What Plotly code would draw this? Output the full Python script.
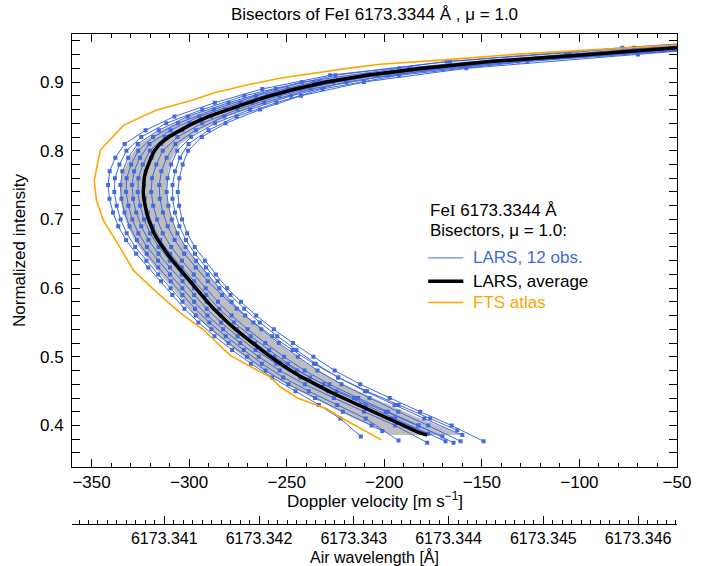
import plotly.graph_objects as go

# ---------------- data ----------------
# bisector levels: odd-numbered observations on levels_a, even-numbered on levels_b
levels_a = [0.97, 0.95, 0.93, 0.91, 0.89, 0.87, 0.85, 0.83, 0.81, 0.79, 0.77, 0.75, 0.73, 0.71, 0.69,
            0.67, 0.65, 0.63, 0.61, 0.59, 0.57, 0.55, 0.53, 0.51, 0.49, 0.47, 0.45, 0.43, 0.41]
levels_b = [0.96, 0.94, 0.92, 0.90, 0.88, 0.86, 0.84, 0.82, 0.80, 0.78, 0.76, 0.74, 0.72, 0.70, 0.68,
            0.66, 0.64, 0.62, 0.60, 0.58, 0.56, 0.54, 0.52, 0.50, 0.48, 0.46, 0.44, 0.42, 0.40]

obs1 = [30, -72, -166.3, -227.7, -262.5, -286.8, -307.5, -322.3, -333, -337.8, -340.7, -341.5, -340.8, -339, -336.3,
        -332.3, -327.1, -320.9, -314.4, -308.6, -302.4, -295.2, -287, -278, -268.3, -257.5, -245.5, -233.5, -222.5]
obs2 = [-22, -107, -192.3, -242.2, -271.7, -293.3, -311.7, -324.5, -332.1, -335.7, -338, -338.3, -337.1, -335.1, -332,
        -327.6, -321.9, -315.8, -309.5, -303.4, -296.6, -288.6, -279.8, -270.3, -260.8, -249.1, -235.4, -221.2, -206.5]
obs3 = [25, -78, -168, -225, -255.5, -279.8, -300.7, -315.5, -326.3, -331.2, -334.2, -335.2, -334.7, -333.1, -330.5,
        -326.8, -321.7, -315.8, -309.4, -303.4, -297, -289.6, -281.2, -272, -262.7, -251.8, -238.7, -224.1, -209.5]
obs4 = [-16, -101, -186.3, -236.2, -265.7, -287.3, -305.7, -318.5, -326.1, -329.7, -332, -332.3, -331.1, -329.1, -326,
        -321.6, -315.9, -309.8, -303.5, -297.4, -290.6, -282.6, -273.8, -264.3, -253.6, -240.7, -225.8, -210.4, -194.5]
obs5 = [40, -45, -144, -210, -249.5, -273.8, -294.7, -309.5, -320.3, -325.2, -328.2, -329.2, -328.7, -327.1, -324.5,
        -320.8, -315.7, -309.8, -303.4, -297.4, -291, -283.6, -275.2, -266, -255.3, -243, -228.5, -212.5, -196.5]
obs6 = [-20, -105, -187, -233.5, -259.7, -281.3, -299.7, -312.5, -320.1, -323.7, -326, -326.3, -325.1, -323.1, -320,
        -315.6, -309.9, -303.8, -297.5, -291, -283.8, -275.4, -266.2, -256.3, -244.8, -231.1, -215.4, -199.2, -182.5]
obs7 = [45, -38, -137.3, -203.7, -243.5, -267.8, -288.7, -303.5, -314.3, -319.2, -322.2, -323.2, -322.7, -321.1, -318.5,
        -314.8, -309.7, -303.8, -297.4, -291.2, -284.6, -277, -268.4, -259, -249.3, -238, -224.5, -209.5, -194.5]
obs8 = [-10, -95, -178.3, -226.2, -253.7, -275.2, -293.3, -306, -313.5, -316.8, -319, -319.4, -318.4, -316.4, -313.5,
        -309.2, -303.7, -297.6, -291.5, -285.2, -278.2, -270, -261, -251.3, -240.8, -228.1, -213.4, -198.2, -182.5]
obs9 = [50, -32, -131.3, -197.7, -237.5, -261.5, -282, -296.5, -307, -311.5, -314.2, -315.3, -315, -313.4, -311,
        -307.4, -302.5, -296.6, -290.4, -283.2, -275.6, -267, -257.4, -247, -236.1, -223.6, -208.9, -192.7, -176.5]
obs10 = [-2, -87, -171, -219.5, -247.7, -268.8, -286.7, -299, -306.1, -309.2, -311, -311.5, -310.6, -308.8, -306,
         -301.8, -296.4, -290.5, -284.5, -278.2, -271.2, -263, -254, -244.3, -234.2, -221.9, -207.6, -192.8, -177.5]
obs11 = [55, -28, -126.7, -192.3, -231.5, -255.3, -275.7, -290, -300.3, -304.7, -307.2, -308.5, -308.5, -307.2, -305,
         -301.6, -297, -291.4, -285.4, -278.8, -271.8, -263.8, -254.8, -245, -235.1, -223.6, -209.9, -194.7, -179.5]
obs12 = [15, -70, -158, -210.5, -242.7, -263.7, -281.3, -293.5, -300.5, -303.3, -305, -305.8, -305.1, -303.6, -301,
         -297.1, -291.9, -286.3, -280.5, -273.4, -265.6, -256.6, -246.8, -236.3, -225.4, -212.3, -197.2, -181.6, -165.5]
observations = [obs1, obs2, obs3, obs4, obs5, obs6, obs7, obs8, obs9, obs10, obs11, obs12]
obs_end_v = [-212.0, -201.0, -192.7, -178.0, -177.4, -170.2, -168.6, -164.5, -162.6, -160.9, -160.0, -149.1]
obs_end_i = [0.384, 0.392, 0.378, 0.375, 0.388, 0.384, 0.377, 0.375, 0.393, 0.377, 0.386, 0.377]

avg_i = [0.95, 0.94, 0.93, 0.92, 0.91, 0.90, 0.89, 0.88, 0.87, 0.86, 0.85, 0.84, 0.83, 0.82, 0.81, 0.80,
         0.79, 0.78, 0.77, 0.76, 0.75, 0.74, 0.73, 0.72, 0.71, 0.70, 0.69, 0.68, 0.67, 0.66, 0.65, 0.64,
         0.63, 0.62, 0.61, 0.60, 0.59, 0.58, 0.57, 0.56, 0.55, 0.54, 0.53, 0.52, 0.51, 0.50, 0.49, 0.48,
         0.47, 0.46, 0.45, 0.44, 0.43, 0.42, 0.41, 0.40, 0.39, 0.386]
avg_v = [-50, -95, -146, -180, -209, -229.5, -245.5, -258.7, -269.5, -280, -290, -298, -304.5, -310.5, -315, -317.8,
         -319.5, -321, -322.2, -323, -323.4, -323.5, -323.2, -322.6, -321.8, -320.8, -319.5, -318, -316, -313.8, -311.2, -308.4,
         -305.5, -302.5, -299.4, -296.5, -293.6, -290.6, -287.4, -284, -280.2, -276.2, -272, -267.6, -263, -258.3, -253.3, -248,
         -242, -235.5, -228.5, -221, -213.5, -206, -198.5, -190.5, -182.5, -178]

fts_i = [0.958, 0.954, 0.948, 0.941, 0.932, 0.929, 0.926, 0.920, 0.913, 0.906, 0.896, 0.884, 0.874, 0.859, 0.837,
         0.801, 0.757, 0.728, 0.699, 0.666, 0.626, 0.593, 0.564, 0.539, 0.502, 0.470, 0.456, 0.440, 0.424, 0.412, 0.379]
fts_v = [-25, -50, -87, -130, -171, -185, -202, -219, -236, -253, -270, -287.5, -298, -317, -333.7,
         -345.5, -348.6, -347.5, -344, -336.8, -328.6, -316.3, -304.5, -292.6, -278.9, -258.3, -253.2, -244.5, -229.2, -222.5, -201.5]

band_i = [0.95, 0.93, 0.91, 0.89, 0.87, 0.85, 0.83, 0.81, 0.79, 0.77, 0.75, 0.73, 0.71, 0.69,
          0.67, 0.65, 0.63, 0.61, 0.59, 0.57, 0.55, 0.53, 0.51, 0.49, 0.47, 0.45, 0.43, 0.41, 0.386]
band_lo = [-66, -160, -221, -256.5, -279.5, -300, -314.5, -325.5, -330.5, -333.7, -335.4, -335.2, -333.8, -331.5,
           -328, -323.2, -317.5, -311.4, -305.6, -299.9, -293.2, -285, -276.5, -267.3, -256.5, -243.5, -229.5, -215.5, -196]
band_hi = [-34, -132, -197, -234.5, -259.5, -280, -294.5, -304.5, -308.5, -310.7, -311.4, -311.2, -309.8, -307.5,
           -304, -299.2, -293.5, -287.4, -281.6, -274.9, -267.2, -259, -249.5, -239.3, -227.5, -213.5, -197.5, -181.5, -160]

x_range = [-360, -50]
y_range = [0.34, 0.97]
wl_range = [6173.340026, 6173.346411]

BLUE = "#4169E1"
ORANGE = "#FFA500"
FONT = "Liberation Sans, Arial, Helvetica, sans-serif"
FS = 17
FS2 = 16
FE_I = "Fe<span style=\"font-family:'Liberation Serif'\">I</span>"

W, H = 706, 566
ML, MR, MT, MB = 72, 29, 34, 42
PW, PH = W - ML - MR, H - MT - MB
PLOT_BOTTOM = 466.7


def px_x(p):
    return (p - ML) / PW


def px_y(p):
    return (H - MB - p) / PH


fig = go.Figure()

# gray band
fig.add_trace(go.Scatter(x=band_lo + band_hi[::-1], y=band_i + band_i[::-1], fill="toself",
                         fillcolor="#BEBEBE", line=dict(width=0), mode="lines",
                         showlegend=False, hoverinfo="skip"))
# observations
for k, ov in enumerate(observations):
    lv = levels_a if k % 2 == 0 else levels_b
    fig.add_trace(go.Scatter(x=ov + [obs_end_v[k]], y=lv + [obs_end_i[k]], mode="lines+markers",
                             line=dict(color=BLUE, width=1),
                             marker=dict(symbol="square", size=4, color=BLUE),
                             showlegend=False, hoverinfo="skip"))
# FTS
fig.add_trace(go.Scatter(x=fts_v, y=fts_i, mode="lines", line=dict(color=ORANGE, width=1.6),
                         showlegend=False, hoverinfo="skip"))
# average
fig.add_trace(go.Scatter(x=avg_v, y=avg_i, mode="lines", line=dict(color="black", width=3.5),
                         showlegend=False, hoverinfo="skip"))
# dummy for wavelength axis
fig.add_trace(go.Scatter(x=[wl_range[0]], y=[0.5], xaxis="x2", yaxis="y", mode="markers",
                         marker=dict(opacity=0), showlegend=False, hoverinfo="skip"))

# legend (drawn manually)
leg_x0, leg_x1, txt_x = -177.5, -159.5, -155.4
leg = [("LARS, 12 obs.", BLUE, 1, 0.644), ("LARS, average", "black", 3.5, 0.610), ("FTS atlas", ORANGE, 1.6, 0.579)]
for name, col, w, yy in leg:
    fig.add_shape(type="line", x0=leg_x0, x1=leg_x1, y0=yy, y1=yy, xref="x", yref="y",
                  line=dict(color=col, width=w))
    fig.add_annotation(x=txt_x, y=yy, xref="x", yref="y", text=name, showarrow=False,
                       xanchor="left", yanchor="middle", font=dict(color=col, size=FS, family=FONT))
fig.add_annotation(x=leg_x0, y=0.7134, xref="x", yref="y", text=FE_I + " 6173.3344 Å", showarrow=False,
                   xanchor="left", yanchor="middle", font=dict(color="black", size=FS, family=FONT))
fig.add_annotation(x=leg_x0, y=0.6843, xref="x", yref="y", text="Bisectors, μ = 1.0:", showarrow=False,
                   xanchor="left", yanchor="middle", font=dict(color="black", size=FS, family=FONT))

# axis titles
fig.add_annotation(x=0.5, y=px_y(500), xref="paper", yref="paper", text="Doppler velocity [m s<sup>−1</sup>]",
                   showarrow=False, xanchor="center", yanchor="middle", font=dict(size=FS, family=FONT))
fig.add_annotation(x=0.5, y=px_y(557), xref="paper", yref="paper", text="Air wavelength [Å]",
                   showarrow=False, xanchor="center", yanchor="middle", borderpad=0,
                   font=dict(size=FS2, family=FONT))
fig.add_annotation(x=px_x(20), y=px_y(250), xref="paper", yref="paper", text="Normalized intensity",
                   showarrow=False, xanchor="center", yanchor="middle", textangle=-90,
                   font=dict(size=FS, family=FONT))

axis_common = dict(showline=True, linecolor="black", linewidth=1, ticks="inside", tickcolor="black",
                   tickwidth=1, ticklen=8, showgrid=False, zeroline=False, automargin=False)

fig.update_layout(
    width=W, height=H,
    margin=dict(l=ML, r=MR, t=MT, b=MB, autoexpand=False),
    paper_bgcolor="white", plot_bgcolor="white",
    font=dict(family=FONT, size=FS, color="black"),
    title=dict(text="Bisectors of " + FE_I + " 6173.3344 Å , μ = 1.0", x=0.5, xref="paper", xanchor="center",
               y=1 - 14 / H, yref="container", yanchor="middle", font=dict(size=FS, family=FONT)),
    xaxis=dict(range=x_range, dtick=50, tick0=-350, mirror="allticks",
               minor=dict(dtick=10, ticklen=4, ticks="inside", tickcolor="black"),
               tickfont=dict(size=FS, family=FONT, color="black"),
               ticklabelstandoff=0, anchor="y", **axis_common),
    yaxis=dict(range=y_range, dtick=0.1, tick0=0.4, mirror="allticks",
               domain=[(H - MB - PLOT_BOTTOM) / PH, 1],
               minor=dict(dtick=0.02, ticklen=4, ticks="inside", tickcolor="black"),
               tickfont=dict(size=FS, family=FONT, color="black"),
               ticklabelstandoff=4, **axis_common),
    xaxis2=dict(range=wl_range, dtick=0.001, tick0=6173.341, tickformat=".3f", overlaying="x",
                anchor="free", position=0, side="bottom",
                minor=dict(dtick=0.0001, ticklen=4, ticks="inside", tickcolor="black"),
                tickfont=dict(size=FS2, family=FONT, color="black"),
                ticklabelstandoff=0, **axis_common),
)

fig.write_html("out.html")
